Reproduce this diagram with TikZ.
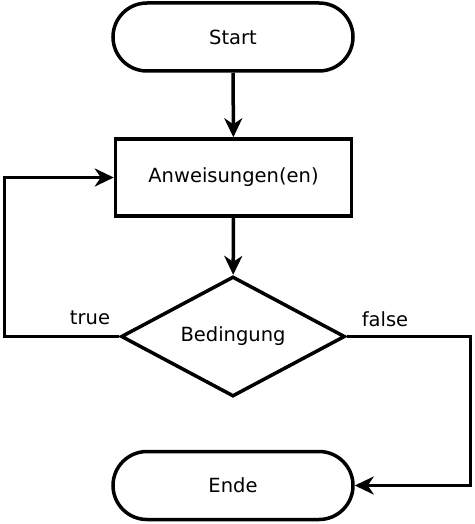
\documentclass[tikz,border=0pt]{standalone}
\usepackage{fontspec}
\setmainfont{DejaVu Sans}
\usetikzlibrary{shapes.misc,shapes.geometric,arrows.meta}
\begin{document}
\begin{tikzpicture}[x=1pt,y=-1pt,
  every node/.style={font=\fontsize{19.5}{23}\selectfont},
  base/.style={draw=black,line width=3.5pt,inner sep=0pt},
  terminal/.style={base,rounded rectangle,rounded rectangle arc length=180,minimum width=240pt,minimum height=68pt},
  process/.style={base,rectangle,minimum width=236pt,minimum height=77pt},
  decision/.style={base,diamond,aspect=2,minimum width=224pt,minimum height=120pt},
  flow/.style={line width=3.5pt,-{Stealth[length=19pt,width=18pt,inset=6pt]}},
  lbl/.style={inner sep=0pt,anchor=base}]
\useasboundingbox (0,0) rectangle (474,524);
\node[terminal] (start) at (233,37) {Start};
\node[process] (anw) at (233.5,177.5) {Anweisungen(en)};
\node[decision] (cond) at (233,336.5) {Bedingung};
\node[terminal] (ende) at (233,485.5) {Ende};
\coordinate (lft) at (4.5,0);
\coordinate (rgt) at (470.5,0);
\draw[flow] (start) -- (anw);
\draw[flow] (anw) -- (cond);
\draw[flow] (cond.west) -- (cond.west -| lft) |- (anw.west);
\draw[flow] (cond.east) -- (cond.east -| rgt) |- (ende.east);
\node[lbl] (ttrue) at (90,324) {true};
\node[lbl] (tfalse) at (385,326) {false};
\end{tikzpicture}
\end{document}
